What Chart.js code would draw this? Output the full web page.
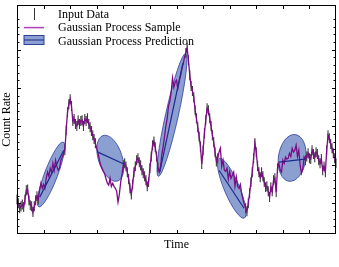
<!DOCTYPE html>
<html>
<head>
<meta charset="utf-8">
<script src="https://cdn.jsdelivr.net/npm/chart.js@4.4.1/dist/chart.umd.min.js"></script>
<style>
  html, body { margin: 0; padding: 0; background: #fff; }
  #wrap { width: 339px; height: 267px; }
</style>
</head>
<body>
<div id="wrap"><canvas id="chart"></canvas></div>
<script>
// ===== Data =====
const gap = n => Array(n).fill(null);

// observed count rate, sampled every 0.05 in time (null = no data)
const countRate = [
  1.10, 1.00, 0.87, 0.92, 0.97, 0.90, 1.10, 1.34, 1.36, 1.08, 0.95, 0.92, 0.77, 0.92, 1.08, 1.18, 1.10,
  ...gap(19),
  2.38, 2.90, 3.37, 3.58, 3.71, 3.53, 3.14, 3.19, 3.06, 3.01, 3.16, 3.06, 3.14, 3.16, 3.01, 3.19, 3.14, 3.21, 3.06, 2.98, 2.88, 2.77, 2.67, 2.56,
  ...gap(20),
  1.99, 2.04, 1.96, 1.81, 1.63, 1.39, 1.23, 1.49, 1.81, 1.96, 2.12, 2.17, 2.07, 1.99, 1.86, 1.78, 1.70, 1.60, 1.44, 1.55, 1.91, 2.22, 2.51, 2.61, 2.46, 2.22, 1.94,
  ...gap(20),
  4.91, 5.04, 4.72, 4.33, 4.05, 3.92, 3.76, 3.42, 3.21, 2.98, 2.74, 2.48, 2.02, 2.38, 2.82, 3.16, 3.47, 3.42, 3.21, 3.01, 2.77, 2.59, 2.33, 2.09, 2.17,
  ...gap(20),
  0.87, 0.79, 1.00, 1.26, 1.55, 1.81, 2.17, 2.56, 2.33, 1.96, 1.81, 1.68, 1.81, 1.70, 1.55, 1.42, 1.44, 1.31, 1.16, 1.42, 1.31, 1.60, 1.65, 1.29, 1.91,
  ...gap(20),
  2.12, 2.22, 2.30, 2.17, 2.15, 2.38, 2.28, 2.20, 2.33, 2.28, 2.12, 2.04, 2.15, 1.86, 1.96, 1.81, 2.38, 2.77, 2.69, 2.54, 2.43, 2.30, 2.17, 2.04
];
const countErr = 0.13;

// GP sample inside the gaps
const gpSample = [
  ...gap(17),
  1.34, 1.52, 1.39, 1.49, 1.39, 1.65, 1.81, 1.70, 1.91, 1.81, 2.04, 1.86, 2.12, 1.96, 1.86, 1.91, 2.12, 2.20, 2.30,
  ...gap(24),
  2.43, 2.30, 2.12, 1.99, 1.91, 1.83, 1.76, 1.63, 1.52, 1.47, 1.65, 1.44, 1.52, 1.44, 1.39, 1.31, 1.03, 1.23, 1.55, 1.76,
  ...gap(27),
  1.81, 1.96, 2.28, 2.48, 2.74, 3.01, 3.21, 3.53, 3.66, 3.89, 4.26, 4.02, 4.15, 4.20, 3.99, 4.18, 4.31, 4.49, 4.62, 4.80,
  ...gap(25),
  2.33, 2.43, 1.96, 2.12, 1.86, 1.83, 1.91, 1.63, 1.83, 1.65, 1.73, 1.81, 1.44, 1.68, 1.44, 1.39, 1.49, 1.26, 1.10, 0.97,
  ...gap(25),
  2.04, 1.86, 1.81, 2.12, 2.04, 2.20, 2.15, 2.17, 2.30, 2.22, 2.43, 2.33, 2.38, 2.51, 2.22, 2.38, 1.99, 1.78, 1.89, 2.20,
  ...gap(24)
];

const time = countRate.map((_, i) => +(i * 0.05).toFixed(2));

// GP prediction: mean line ends and covariance ellipses
const predX0 = [0.855, 3.04, 5.37, 7.60, 9.86];
const predY0 = [1.16, 2.33, 1.81, 1.86, 2.07];
const predX1 = [1.76, 4.02, 6.24, 8.54, 10.83];
const predY1 = [2.38, 2.02, 4.65, 0.87, 2.15];

const ellCx  = [1.28, 3.51, 5.83, 8.08, 10.35];
const ellCy  = [1.75, 2.17, 3.30, 1.39, 2.18];
const ellSx  = [0.516, 0.508, 0.565, 0.54, 0.527];
const ellSy  = [0.846, 0.60, 1.60, 0.78, 0.61];
const ellRho = [0.86, -0.40, 0.90, -0.82, 0.15];

// ===== Styles =====
const sampleColor = "#7c0c86";
const meanColor = "#1c2a8c";
const ellFill = "#8c9fd1";
const ellEdge = "#2f3f9e";
const serif = "'Liberation Serif', 'Times New Roman', serif";

Chart.defaults.font.family = serif;
Chart.defaults.font.size = 12;
Chart.defaults.color = "#000";

// ellipses + error bars, under the lines
const underlay = {
  id: "underlay",
  beforeDatasetsDraw(chart) {
    const { ctx, scales: { x, y } } = chart;
    const kx = x.getPixelForValue(1) - x.getPixelForValue(0);
    const ky = y.getPixelForValue(0) - y.getPixelForValue(1);
    ctx.save();
    ellCx.forEach((cx, i) => {
      const sx = ellSx[i] * kx, sy = ellSy[i] * ky;
      const a = sx * sx, c = sy * sy, b = -ellRho[i] * sx * sy;
      const m = (a + c) / 2, d = Math.sqrt(((a - c) / 2) ** 2 + b * b);
      const theta = 0.5 * Math.atan2(2 * b, a - c);
      ctx.beginPath();
      ctx.ellipse(x.getPixelForValue(cx), y.getPixelForValue(ellCy[i]),
        Math.sqrt(m + d), Math.sqrt(Math.max(m - d, 0.1)), theta, 0, Math.PI * 2);
      ctx.fillStyle = ellFill;
      ctx.fill();
      ctx.lineWidth = 0.8;
      ctx.strokeStyle = ellEdge;
      ctx.stroke();
    });

    // error bars
    ctx.beginPath();
    countRate.forEach((v, i) => {
      if (v === null) return;
      const px = x.getPixelForValue(time[i]);
      ctx.moveTo(px, y.getPixelForValue(v - countErr));
      ctx.lineTo(px, y.getPixelForValue(v + countErr));
    });
    ctx.lineWidth = 1.1;
    ctx.strokeStyle = "#3c3c3c";
    ctx.stroke();
    ctx.restore();
  }
};

// frame with inward ticks on all sides
const frame = {
  id: "frame",
  afterDatasetsDraw(chart) {
    const { ctx, chartArea: a, scales: { x, y } } = chart;
    const L = Math.round(a.left) + 0.5, R = Math.round(a.right) - 0.5;
    const T = Math.round(a.top) + 0.5, B = Math.round(a.bottom) - 0.5;
    ctx.save();
    ctx.strokeStyle = "#000";
    ctx.lineWidth = 1;
    ctx.strokeRect(L, T, R - L, B - T);
    ctx.beginPath();
    x.ticks.forEach(t => {
      if (t.value <= x.min || t.value >= x.max) return;
      const px = Math.round(x.getPixelForValue(t.value)) + 0.5;
      ctx.moveTo(px, B); ctx.lineTo(px, B - 3.5);
      ctx.moveTo(px, T); ctx.lineTo(px, T + 3.5);
    });
    y.ticks.forEach(t => {
      if (t.value <= y.min || t.value >= y.max) return;
      const major = Math.abs(t.value - Math.round(t.value)) < 1e-6;
      const len = major ? 3.5 : 2;
      const py = Math.round(y.getPixelForValue(t.value)) + 0.5;
      ctx.moveTo(L, py); ctx.lineTo(L + len, py);
      ctx.moveTo(R, py); ctx.lineTo(R - len, py);
    });
    ctx.stroke();
    ctx.restore();
  }
};

// legend in the upper left corner
const legendBox = {
  id: "legendBox",
  afterDraw(chart) {
    const { ctx, chartArea: a } = chart;
    const hx0 = a.left + 7, hx1 = a.left + 27, tx = a.left + 41;
    const base = [a.top + 12.5, a.top + 26.2, a.top + 39.9];
    const labels = ["Input Data", "Gaussian Process Sample", "Gaussian Process Prediction"];
    ctx.save();
    // input data: error bar
    ctx.beginPath();
    ctx.moveTo(a.left + 17.5, base[0] - 9.5);
    ctx.lineTo(a.left + 17.5, base[0] + 2.5);
    ctx.strokeStyle = "#333";
    ctx.lineWidth = 1;
    ctx.stroke();
    // sample line
    ctx.beginPath();
    ctx.moveTo(hx0, base[1] - 3.6);
    ctx.lineTo(hx1, base[1] - 3.6);
    ctx.strokeStyle = "#b040b8";
    ctx.lineWidth = 1.5;
    ctx.stroke();
    // prediction patch
    ctx.fillStyle = ellFill;
    ctx.fillRect(hx0, base[2] - 9.4, hx1 - hx0, 9);
    ctx.strokeStyle = ellEdge;
    ctx.lineWidth = 1;
    ctx.strokeRect(hx0, base[2] - 9.4, hx1 - hx0, 9);
    ctx.beginPath();
    ctx.moveTo(hx0, base[2] - 4.9);
    ctx.lineTo(hx1, base[2] - 4.9);
    ctx.strokeStyle = meanColor;
    ctx.stroke();

    ctx.fillStyle = "#000";
    ctx.font = "12px " + serif;
    ctx.textBaseline = "alphabetic";
    labels.forEach((txt, i) => ctx.fillText(txt, tx, base[i]));
    ctx.restore();
  }
};

const predSets = predX0.map((x0, i) => ({
  label: "Gaussian Process Prediction",
  data: [{ x: x0, y: predY0[i] }, { x: predX1[i], y: predY1[i] }],
  borderColor: meanColor,
  borderWidth: 1.2,
  pointRadius: 0,
  order: 1
}));

new Chart(document.getElementById("chart"), {
  type: "line",
  data: {
    datasets: [
      ...predSets,
      {
        label: "Gaussian Process Sample",
        data: time.map((t, i) => ({ x: t, y: countRate[i] ?? gpSample[i] })),
        borderColor: sampleColor,
        borderWidth: 1.3,
        pointRadius: 0,
        order: 2
      },
      {
        label: "Input Data",
        data: time.map((t, i) => ({ x: t, y: countRate[i] })),
        showLine: false,
        pointRadius: 0,
        order: 3
      }
    ]
  },
  plugins: [underlay, frame, legendBox],
  options: {
    responsive: true,
    maintainAspectRatio: false,
    animation: false,
    events: [],
    layout: { autoPadding: false, padding: { left: 0, right: 3, top: 5, bottom: 14.6 } },
    plugins: { legend: { display: false }, tooltip: { enabled: false } },
    scales: {
      x: {
        type: "linear",
        min: 0, max: 12,
        ticks: { display: false, stepSize: 1 },
        grid: { display: false, drawTicks: false },
        border: { display: false },
        title: { display: true, text: "Time", padding: { top: 4, bottom: 0 } }
      },
      y: {
        min: 0.2, max: 6.16,
        ticks: { display: false, stepSize: 0.2 },
        grid: { display: false, drawTicks: false },
        border: { display: false },
        title: { display: true, text: "Count Rate", padding: { top: 0, bottom: 2.6 } }
      }
    }
  }
});
</script>
</body>
</html>
